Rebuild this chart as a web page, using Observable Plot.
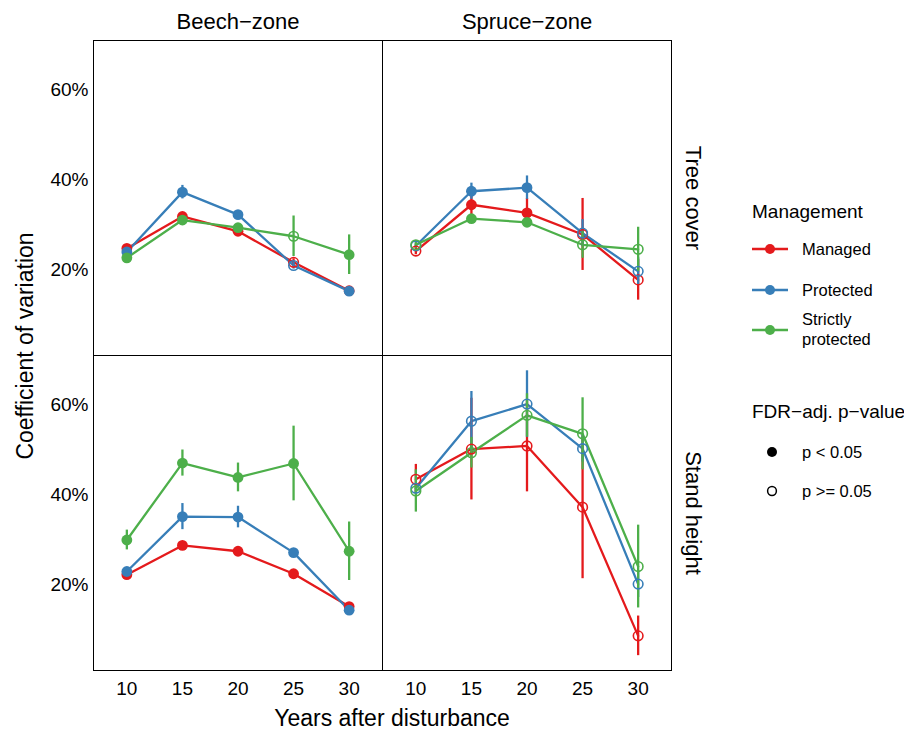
<!DOCTYPE html>
<html>
<head>
<meta charset="utf-8">
<script src="https://cdn.jsdelivr.net/npm/d3@7"></script>
<script src="https://cdn.jsdelivr.net/npm/@observablehq/plot@0.6"></script>
<style>
  body { margin: 0; background: #fff; }
  #wrap { position: relative; width: 904px; height: 730px; font-family: "Liberation Sans", Arial, sans-serif; }
</style>
</head>
<body>
<div id="wrap"></div>
<script>
// ---------- data ----------
const years = [10, 15, 20, 25, 30];
const zones = ["Beech−zone", "Spruce−zone"];
const variables = ["Tree cover", "Stand height"];
const groups = ["Managed", "Protected", "Strictly protected"];
const groupColors = ["#E41A1C", "#377EB8", "#4DAF4A"];
const yTicks = [20, 40, 60];

// Tree cover, Beech-zone
const treeBeechManaged      = [24.7, 31.8, 28.5, 21.6, 15.3];
const treeBeechManagedErr   = [0.8, 0.8, 0.8, 0.8, 0.6];
const treeBeechManagedSig   = [1, 1, 1, 0, 1];
const treeBeechProtected    = [23.9, 37.2, 32.2, 20.9, 15.2];
const treeBeechProtectedErr = [0.6, 1.5, 0.8, 0.8, 0.6];
const treeBeechProtectedSig = [1, 1, 1, 0, 1];
const treeBeechStrict       = [22.6, 31.0, 29.3, 27.4, 23.3];
const treeBeechStrictErr    = [0.8, 0.8, 0.8, 4.5, 4.4];
const treeBeechStrictSig    = [1, 1, 1, 0, 1];

// Tree cover, Spruce-zone
const treeSpruceManaged      = [24.1, 34.4, 32.6, 27.8, 17.7];
const treeSpruceManagedErr   = [0.8, 2.8, 3.2, 8.0, 4.5];
const treeSpruceManagedSig   = [0, 1, 1, 0, 0];
const treeSpruceProtected    = [25.3, 37.4, 38.2, 28.1, 19.6];
const treeSpruceProtectedErr = [0.6, 1.8, 2.6, 3.0, 3.0];
const treeSpruceProtectedSig = [0, 1, 1, 0, 0];
const treeSpruceStrict       = [25.5, 31.3, 30.5, 25.5, 24.5];
const treeSpruceStrictErr    = [0.8, 0.8, 0.8, 3.0, 4.9];
const treeSpruceStrictSig    = [0, 1, 1, 0, 0];

// Stand height, Beech-zone
const heightBeechManaged      = [22.2, 28.7, 27.4, 22.4, 15.1];
const heightBeechManagedErr   = [0.6, 0.8, 0.8, 0.8, 0.6];
const heightBeechManagedSig   = [1, 1, 1, 1, 1];
const heightBeechProtected    = [22.9, 35.1, 35.0, 27.1, 14.3];
const heightBeechProtectedErr = [0.6, 2.9, 2.4, 0.9, 0.6];
const heightBeechProtectedSig = [1, 1, 1, 1, 1];
const heightBeechStrict       = [29.9, 47.0, 43.8, 46.9, 27.4];
const heightBeechStrictErr    = [2.2, 2.9, 3.2, 8.3, 6.5];
const heightBeechStrictSig    = [1, 1, 1, 1, 1];

// Stand height, Spruce-zone
const heightSpruceManaged      = [43.4, 50.1, 50.8, 37.2, 8.6];
const heightSpruceManagedErr   = [3.3, 11.3, 10.2, 15.9, 4.4];
const heightSpruceManagedSig   = [0, 0, 0, 0, 0];
const heightSpruceProtected    = [41.4, 56.3, 60.1, 50.2, 20.1];
const heightSpruceProtectedErr = [1.0, 6.6, 7.4, 3.0, 3.0];
const heightSpruceProtectedSig = [0, 0, 0, 0, 0];
const heightSpruceStrict       = [40.8, 49.3, 57.6, 53.5, 24.0];
const heightSpruceStrictErr    = [4.7, 3.4, 4.8, 8.0, 9.2];
const heightSpruceStrictSig    = [0, 0, 0, 0, 0];

// ---------- build table ----------
const series = [
  [variables[0], zones[0], groups[0], treeBeechManaged, treeBeechManagedErr, treeBeechManagedSig],
  [variables[0], zones[0], groups[1], treeBeechProtected, treeBeechProtectedErr, treeBeechProtectedSig],
  [variables[0], zones[0], groups[2], treeBeechStrict, treeBeechStrictErr, treeBeechStrictSig],
  [variables[0], zones[1], groups[0], treeSpruceManaged, treeSpruceManagedErr, treeSpruceManagedSig],
  [variables[0], zones[1], groups[1], treeSpruceProtected, treeSpruceProtectedErr, treeSpruceProtectedSig],
  [variables[0], zones[1], groups[2], treeSpruceStrict, treeSpruceStrictErr, treeSpruceStrictSig],
  [variables[1], zones[0], groups[0], heightBeechManaged, heightBeechManagedErr, heightBeechManagedSig],
  [variables[1], zones[0], groups[1], heightBeechProtected, heightBeechProtectedErr, heightBeechProtectedSig],
  [variables[1], zones[0], groups[2], heightBeechStrict, heightBeechStrictErr, heightBeechStrictSig],
  [variables[1], zones[1], groups[0], heightSpruceManaged, heightSpruceManagedErr, heightSpruceManagedSig],
  [variables[1], zones[1], groups[1], heightSpruceProtected, heightSpruceProtectedErr, heightSpruceProtectedSig],
  [variables[1], zones[1], groups[2], heightSpruceStrict, heightSpruceStrictErr, heightSpruceStrictSig]
];
const data = [];
for (const [variable, zone, group, means, errs, sigs] of series) {
  years.forEach((year, i) => {
    data.push({variable, zone, group, year, mean: means[i], lo: means[i] - errs[i], hi: means[i] + errs[i], sig: sigs[i] === 1});
  });
}

const font = '"Liberation Sans", Arial, sans-serif';
const common = {fx: "zone", fy: "variable"};

const chart = Plot.plot({
  width: 904,
  height: 730,
  marginLeft: 93,
  marginRight: 233,
  marginTop: 40,
  marginBottom: 60,
  style: {fontFamily: font, fontSize: "19px", color: "#000", background: "#fff"},
  x: {domain: [7, 33]},
  y: {domain: [0.9, 70.9]},
  fx: {domain: zones, padding: 0},
  fy: {domain: variables, padding: 0},
  color: {domain: groups, range: groupColors},
  marks: [
    Plot.frame({stroke: "#000", strokeWidth: 1}),
    Plot.line(data, {...common, x: "year", y: "mean", z: "group", stroke: "group", strokeWidth: 2.3}),
    Plot.ruleX(data, {...common, x: "year", y1: "lo", y2: "hi", stroke: "group", strokeWidth: 2.3}),
    Plot.dot(data.filter(d => d.sig), {...common, x: "year", y: "mean", fill: "group", r: 5.4}),
    Plot.dot(data.filter(d => !d.sig), {...common, x: "year", y: "mean", stroke: "group", fill: "none", r: 4.8, strokeWidth: 1.6}),
    Plot.axisY({ticks: yTicks, tickFormat: d => d + "%", tickSize: 0, tickPadding: 5, label: null, fontSize: 19}),
    Plot.axisX({ticks: years, tickFormat: d => String(d), tickSize: 0, tickPadding: 11, label: null, fontSize: 19}),
    Plot.axisFx({anchor: "top", tickSize: 0, tickPadding: 12, label: null, fontSize: 22}),
    Plot.axisFy({anchor: "right", tickSize: 0, tickPadding: 30, tickRotate: 90, label: null, fontSize: 22})
  ]
});

const svg = d3.select(chart);
svg.append("text")
  .attr("x", 392).attr("y", 726)
  .attr("text-anchor", "middle")
  .attr("font-size", 23).attr("font-family", font).attr("fill", "#000")
  .text("Years after disturbance");
svg.append("text")
  .attr("transform", "translate(33,346) rotate(-90)")
  .attr("text-anchor", "middle")
  .attr("font-size", 23).attr("font-family", font).attr("fill", "#000")
  .text("Coefficient of variation");

const wrap = document.getElementById("wrap");
wrap.appendChild(chart);

// ---------- legend ----------
const lg = d3.select(wrap).append("svg")
  .attr("width", 169).attr("height", 340)
  .style("position", "absolute").style("left", "735px").style("top", "180px")
  .attr("font-family", font);
lg.append("text").attr("x", 17).attr("y", 38).attr("font-size", 19).attr("fill", "#000").text("Management");
const keyY = [69, 110, 150];
groups.forEach((g, i) => {
  const y = keyY[i];
  lg.append("line").attr("x1", 17).attr("x2", 53).attr("y1", y).attr("y2", y).attr("stroke", groupColors[i]).attr("stroke-width", 2.3);
  lg.append("circle").attr("cx", 35).attr("cy", y).attr("r", 5).attr("fill", groupColors[i]);
  const t = lg.append("text").attr("x", 67).attr("y", y + 6).attr("font-size", 16.5).attr("fill", "#000");
  if (g === "Strictly protected") {
    t.attr("y", y - 5);
    t.append("tspan").attr("x", 67).text("Strictly");
    t.append("tspan").attr("x", 67).attr("dy", 20).text("protected");
  } else {
    t.text(g);
  }
});
lg.append("text").attr("x", 17).attr("y", 238).attr("font-size", 19).attr("fill", "#000").text("FDR−adj. p−value");
lg.append("circle").attr("cx", 37).attr("cy", 272).attr("r", 5).attr("fill", "#000");
lg.append("text").attr("x", 67).attr("y", 278).attr("font-size", 16.5).attr("fill", "#000").text("p < 0.05");
lg.append("circle").attr("cx", 37).attr("cy", 311).attr("r", 4.4).attr("fill", "none").attr("stroke", "#000").attr("stroke-width", 1.5);
lg.append("text").attr("x", 67).attr("y", 317).attr("font-size", 16.5).attr("fill", "#000").text("p >= 0.05");
</script>
</body>
</html>
